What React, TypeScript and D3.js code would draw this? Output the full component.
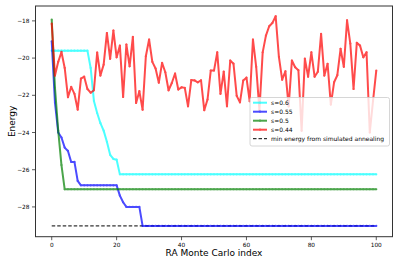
import React from "react";
import * as d3 from "d3";

const W = 399;
const H = 266;

const red044: number[] = [
  -18.15, -20.94, -20.2, -19.67, -20.53, -22.1, -21.55, -21.92, -22.77, -21.1,
  -21.0, -21.66, -21.86, -21.73, -19.7, -20.94, -20.35, -18.65, -20.04, -18.52,
  -19.96, -19.33, -22.09, -19.27, -20.44, -18.86, -22.41, -21.78, -22.77, -19.9,
  -19.0, -20.2, -20.56, -21.32, -20.26, -20.76, -21.73, -21.34, -20.83, -21.69,
  -21.57, -21.6, -22.59, -21.18, -21.2, -21.3, -21.19, -22.8, -22.23, -20.67,
  -20.67, -19.69, -21.92, -20.73, -22.59, -20.13, -20.3, -22.03, -22.38, -21.21,
  -21.05, -22.32, -19.0, -20.47, -22.8, -19.69, -18.79, -18.29, -18.11, -17.75,
  -19.94, -21.16, -20.71, -22.6, -20.13, -20.49, -20.65, -23.9, -20.03, -21.0,
  -19.69, -21.0, -20.73, -18.7, -20.94, -20.31, -22.5, -21.3, -20.92, -19.5,
  -20.47, -17.97, -19.22, -21.66, -19.18, -19.33, -19.96, -19.69, -24.0, -22.3,
  -20.67,
];

const cyanHead: number[] = [
  -19.6, -19.6, -19.6, -19.6, -19.6, -19.6, -19.6, -19.6, -19.6, -19.6, -19.6, -19.6,
  -20.53, -22.3, -22.95, -23.5, -23.9, -24.5, -25.2, -25.42, -25.46, -26.25,
];
const cyanFinal = -26.25;

const blueHead: number[] = [
  -19.1, -22.4, -24.0, -24.27, -24.81, -24.99, -25.58, -25.58, -26.6, -26.84,
  -26.84, -26.84, -26.84, -26.84, -26.84, -26.84, -26.84, -26.84, -26.84, -26.84,
  -26.84, -27.39, -27.75, -28.0, -28.0, -28.0, -28.0, -28.0, -29.02,
];
const blueFinal = -29.02;

const greenHead: number[] = [-17.93, -21.6, -23.9, -25.75, -27.05];
const greenFinal = -27.05;

const saMin = -29.02;

const xTicks = [0, 20, 40, 60, 80, 100];
const yTicks = [-28, -26, -24, -22, -20, -18];

const N = 101;
function fill(head: number[], final: number): number[] {
  const out: number[] = [];
  for (let i = 0; i < N; i++) out.push(i < head.length ? head[i] : final);
  return out;
}

const seriesList = [
  { label: "s=0.6", color: "#00ffff", values: fill(cyanHead, cyanFinal) },
  { label: "s=0.55", color: "#0000ff", values: fill(blueHead, blueFinal) },
  { label: "s=0.5", color: "#008000", values: fill(greenHead, greenFinal) },
  { label: "s=0.44", color: "#ff0000", values: red044 },
];

const FONT = "DejaVu Sans, sans-serif";

export default function App() {
  const left = 35.5, right = 392.5, top = 6, bottom = 236.7;
  const x = d3.scaleLinear().domain([-5, 105]).range([left, right]);
  const y = d3.scaleLinear().domain([-29.6, -17.2]).range([bottom, top]);
  const line = d3
    .line<number>()
    .x((_, i) => x(i))
    .y((d) => y(d));

  const fmt = (v: number) => (v < 0 ? "\u2212" + Math.abs(v) : String(v));

  const legX = 250, legY = 97.5, legW = 139.5, legH = 48.5;
  const legItems = [
    ...seriesList.map((s) => ({ label: s.label, color: s.color, dashed: false })),
    { label: "min energy from simulated annealing", color: "#000", dashed: true },
  ];

  return (
    <svg
      width={W}
      height={H}
      style={{ position: "absolute", left: 0, top: 0, background: "#fff" }}
      fontFamily={FONT}
    >
      <rect x={0} y={0} width={W} height={H} fill="#fff" />
      {/* SA dashed line */}
      <line
        x1={x(0)}
        x2={x(100)}
        y1={y(saMin)}
        y2={y(saMin)}
        stroke="#000"
        strokeWidth={1}
        strokeDasharray="3.5,2"
      />
      {seriesList.map((s) => (
        <g key={s.label} opacity={0.7}>
          <path d={line(s.values) || ""} fill="none" stroke={s.color} strokeWidth={2} strokeLinejoin="round" />
          {s.values.map((v, i) => (
            <circle key={i} cx={x(i)} cy={y(v)} r={1.1} fill={s.color} />
          ))}
        </g>
      ))}
      {/* legend */}
      <g>
        <rect
          x={legX}
          y={legY}
          width={legW}
          height={legH}
          rx={2}
          fill="#fff"
          fillOpacity={0.8}
          stroke="#cccccc"
          strokeWidth={0.8}
        />
        {legItems.map((it, k) => {
          const cy = 102.7 + k * 9;
          return (
            <g key={it.label}>
              {it.dashed ? (
                <line x1={253} x2={267} y1={cy} y2={cy} stroke="#000" strokeWidth={1} strokeDasharray="3.5,2" />
              ) : (
                <g opacity={0.7}>
                  <line x1={253} x2={267} y1={cy} y2={cy} stroke={it.color} strokeWidth={2} />
                  <circle cx={260} cy={cy} r={1.1} fill={it.color} />
                </g>
              )}
              <text x={271} y={cy} dy="0.35em" fontSize={6} fill="#000">
                {it.label}
              </text>
            </g>
          );
        })}
      </g>
      {/* axes spines */}
      <rect x={left} y={top} width={right - left} height={bottom - top} fill="none" stroke="#333" strokeWidth={1} />
      {/* x ticks */}
      {xTicks.map((t) => (
        <g key={t}>
          <line x1={x(t)} x2={x(t)} y1={bottom} y2={bottom + 3.5} stroke="#333" strokeWidth={0.8} />
          <text x={x(t)} y={bottom + 6} dy="0.71em" textAnchor="middle" fontSize={5.8} fill="#000">
            {fmt(t)}
          </text>
        </g>
      ))}
      {/* y ticks */}
      {yTicks.map((t) => (
        <g key={t}>
          <line x1={left - 3.5} x2={left} y1={y(t)} y2={y(t)} stroke="#333" strokeWidth={0.8} />
          <text x={left - 6} y={y(t)} dy="0.35em" textAnchor="end" fontSize={5.8} fill="#000">
            {fmt(t)}
          </text>
        </g>
      ))}
      <text x={(left + right) / 2} y={256} textAnchor="middle" fontSize={9} fill="#000">
        RA Monte Carlo index
      </text>
      <text
        transform={`translate(15,${(top + bottom) / 2}) rotate(-90)`}
        textAnchor="middle"
        fontSize={9}
        fill="#000"
      >
        Energy
      </text>
    </svg>
  );
}
